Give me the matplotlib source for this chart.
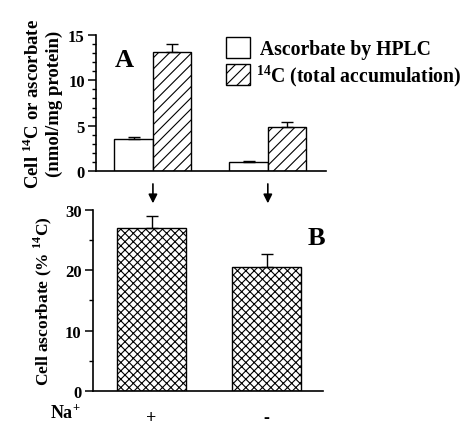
import matplotlib
matplotlib.use("Agg")
import matplotlib.pyplot as plt
import numpy as np
from matplotlib.patches import Patch
from matplotlib.ticker import MultipleLocator

plt.rcParams['font.family'] = 'Liberation Serif'
plt.rcParams['font.weight'] = 'bold'
plt.rcParams['mathtext.fontset'] = 'custom'
plt.rcParams['mathtext.rm'] = 'Liberation Serif:bold'
plt.rcParams['mathtext.bf'] = 'Liberation Serif:bold'
plt.rcParams['hatch.linewidth'] = 0.8

# data
conditions = ['+', '-']
hplc = [3.5, 1.0]
hplc_err = [0.3, 0.12]
total14c = [13.1, 4.9]
total14c_err = [0.9, 0.5]
pct = [27.0, 20.6]
pct_err = [2.0, 2.1]

x = np.arange(len(conditions))

fig = plt.figure(figsize=(4.68, 4.27), dpi=100)
axA = fig.add_axes([0.205, 0.597, 0.491, 0.319])
axB = fig.add_axes([0.198, 0.082, 0.492, 0.424])

# ---- panel A
w = 0.335
axA.bar(x - w/2, hplc, w, color='white', edgecolor='black', linewidth=1.0,
        yerr=[np.zeros(2), hplc_err], capsize=4, error_kw=dict(lw=1, capthick=1))
axA.bar(x + w/2, total14c, w, color='white', edgecolor='black', linewidth=1.0, hatch='///',
        yerr=[np.zeros(2), total14c_err], capsize=4, error_kw=dict(lw=1, capthick=1))
axA.set_xlim(-0.496, 1.504)
axA.set_ylim(0, 15)
axA.set_yticks([0, 5, 10, 15])
axA.yaxis.set_minor_locator(MultipleLocator(1))
axA.set_xticks([])
axA.text(-0.33, 11.6, 'A', fontsize=19, fontweight='bold')
axA.set_ylabel('Cell $^{14}$C or ascorbate\n(nmol/mg protein)', fontsize=13.5,
               fontweight='bold', labelpad=4, linespacing=1.2)

handles = [Patch(facecolor='white', edgecolor='black', lw=1.0),
           Patch(facecolor='white', edgecolor='black', lw=1.0, hatch='///')]
fig.legend(handles, [' Ascorbate by HPLC', '$^{14}$C (total accumulation)'],
           loc='upper left', bbox_to_anchor=(0.462, 0.935), frameon=False,
           fontsize=14.2, handlelength=1.2, handleheight=1.3, handletextpad=0.3,
           labelspacing=0.15, borderpad=0)

for i in x:
    axA.annotate('', xy=(i, -0.257), xycoords=('data', 'axes fraction'),
                 xytext=(i, -0.074), textcoords=('data', 'axes fraction'),
                 arrowprops=dict(arrowstyle='-|>', color='black', lw=1.2,
                                 mutation_scale=13), annotation_clip=False)

# ---- panel B
wb = 0.6
axB.bar(x, pct, wb, color='white', edgecolor='black', linewidth=1.0, hatch='xxxx',
        yerr=[np.zeros(2), pct_err], capsize=4, error_kw=dict(lw=1, capthick=1))
axB.set_xlim(-0.513, 1.491)
axB.set_ylim(0, 30)
axB.set_yticks([0, 10, 20, 30])
axB.yaxis.set_minor_locator(MultipleLocator(5))
axB.set_xticks(x)
axB.set_xticklabels(conditions, fontsize=13)
axB.tick_params(axis='x', length=0, pad=13)
axB.text(1.51, 24.3, 'B', fontsize=19, fontweight='bold', ha='right')
axB.set_ylabel('Cell ascorbate (% $^{14}$C)', fontsize=12.5, fontweight='bold', labelpad=8)
fig.text(0.14, 0.018, 'Na$^{+}$', fontsize=13, fontweight='bold', ha='center', va='baseline')

for ax in (axA, axB):
    ax.spines['top'].set_visible(False)
    ax.spines['right'].set_visible(False)
    ax.spines['left'].set_linewidth(1.2)
    ax.spines['bottom'].set_linewidth(1.2)
    ax.tick_params(axis='y', which='major', length=6, width=1.1, labelsize=12, pad=2)
    ax.tick_params(axis='y', which='minor', length=3, width=1.0)
    for lbl in ax.get_yticklabels():
        lbl.set_fontweight('bold')

fig.savefig('out.png', dpi=100)
